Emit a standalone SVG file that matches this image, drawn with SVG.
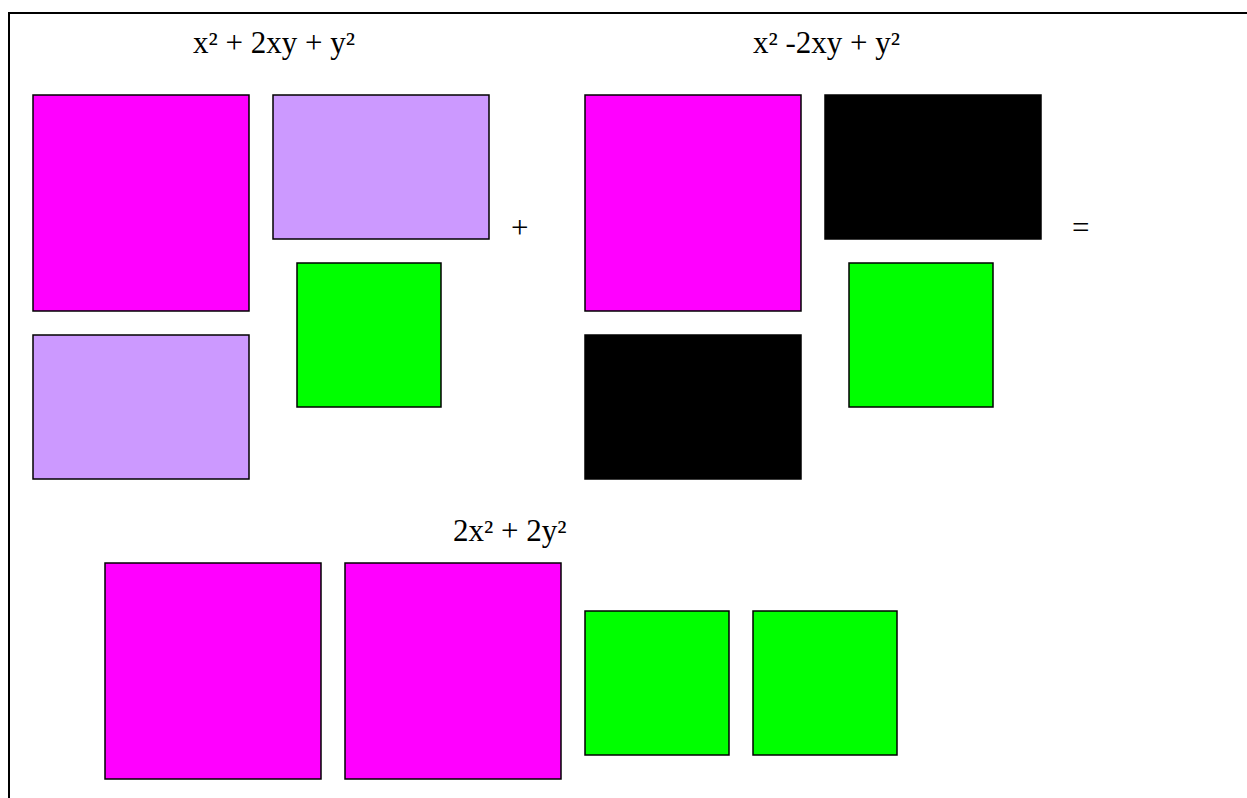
<svg xmlns="http://www.w3.org/2000/svg" width="1247" height="798" viewBox="0 0 1247 798">
<style>
.b{stroke:#000;stroke-width:1.5}
.m{fill:#FF00FF}
.p{fill:#CC99FF}
.g{fill:#00FF00}
.k{fill:#000}
text{font-family:"Liberation Serif","Times New Roman",serif;font-size:31px;fill:#000}
</style>
<rect x="0" y="0" width="1247" height="798" fill="#fff"/>
<path d="M9 798 V13 H1247" fill="none" stroke="#000" stroke-width="2"/>
<g id="label1"><text x="193" y="53">x² + 2xy + y²</text></g>
<g id="label2"><text x="753" y="53">x² -2xy + y²</text></g>
<g id="label3"><text x="453" y="541">2x² + 2y²</text></g>
<g id="plus"><text x="511" y="238">+</text></g>
<g id="equals"><text x="1072" y="238">=</text></g>
<g id="g1">
<rect class="b m" x="33" y="95" width="216" height="216"/>
<rect class="b p" x="273" y="95" width="216" height="144"/>
<rect class="b g" x="297" y="263" width="144" height="144"/>
<rect class="b p" x="33" y="335" width="216" height="144"/>
</g>
<g id="g2">
<rect class="b m" x="585" y="95" width="216" height="216"/>
<rect class="b k" x="825" y="95" width="216" height="144"/>
<rect class="b g" x="849" y="263" width="144" height="144"/>
<rect class="b k" x="585" y="335" width="216" height="144"/>
</g>
<g id="g3">
<rect class="b m" x="105" y="563" width="216" height="216"/>
<rect class="b m" x="345" y="563" width="216" height="216"/>
<rect class="b g" x="585" y="611" width="144" height="144"/>
<rect class="b g" x="753" y="611" width="144" height="144"/>
</g>
<g id="connectors"></g>
</svg>
